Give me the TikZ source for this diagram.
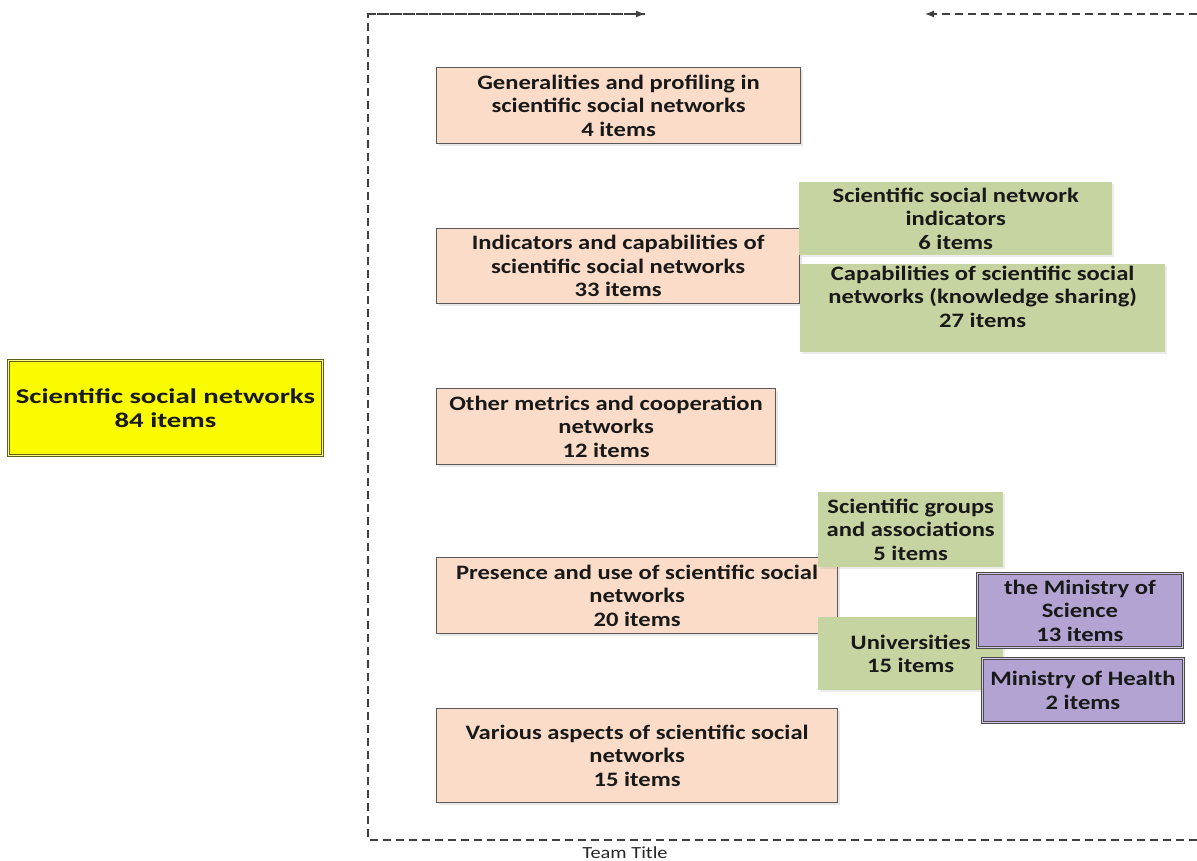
\documentclass[tikz,border=0pt]{standalone}
\usepackage{fontspec}
\setmainfont{Carlito}[FakeStretch=1.2]
\newfontfamily\widefont{Carlito}[FakeStretch=1.37]
\usetikzlibrary{shadows,arrows.meta}
\definecolor{peach}{HTML}{FBDCC8}
\definecolor{sage}{HTML}{C6D4A1}
\definecolor{lav}{HTML}{B3A3D3}
\definecolor{ylw}{HTML}{FAFA00}
\definecolor{olv}{HTML}{5E5E20}
\definecolor{frame}{HTML}{404040}
\tikzset{
  boxtext/.style={font=\fontsize{20.5}{23.5}\selectfont\bfseries, align=center, inner sep=0pt, anchor=north west, text=black!90},
  orangebox/.style={boxtext, fill=peach, draw=black!65, line width=1.2pt,
     drop shadow={opacity=0.18, shadow xshift=2pt, shadow yshift=-2pt}},
  greenbox/.style={boxtext, fill=sage,
     drop shadow={opacity=0.15, shadow xshift=2pt, shadow yshift=-2pt}},
  purplebox/.style={boxtext, fill=lav, draw=black!70, double=lav!60!white, double distance=1.2pt, line width=0.9pt},
  mainbox/.style={boxtext, font=\widefont\fontsize{21}{24}\selectfont\bfseries, fill=ylw, draw=olv, double=ylw!50!white, double distance=1.5pt, line width=0.9pt},
  lane/.style={draw=frame, dashed, dash pattern=on 8pt off 5pt, line width=1.2pt},
  lanearrow/.style={lane, -{Latex[length=9pt,width=7pt]}},
}
\begin{document}
\begin{tikzpicture}[x=1pt,y=-1pt]
\useasboundingbox (0,0) rectangle (1197,861);
% swimlane frame
\coordinate (tl) at (368,14);
\coordinate (bl) at (368,840);
\coordinate (br) at (1197,840);
\coordinate (ta) at (645,14);
\coordinate (tr) at (1197,14);
\coordinate (tb) at (925,14);
\draw[lane] (ta) -- (tl) -- (bl) -- (br);
\draw[lanearrow] (tl) -- (ta);
\draw[lanearrow] (tr) -- (tb);
\node[font=\fontsize{17}{19}\selectfont, text=black!85] (team) at (625,853) {Team Title};
% main
\node[mainbox, minimum width=314pt, minimum height=95pt] (main) at (8,360) {Scientific social networks\\84 items};
% orange
\node[orangebox, minimum width=364pt, minimum height=76pt] (o1) at (436,67) {Generalities and profiling in\\scientific social networks\\4 items};
\node[orangebox, minimum width=363pt, minimum height=75pt] (o2) at (436,228) {Indicators and capabilities of\\scientific social networks\\33 items};
\node[orangebox, minimum width=339pt, minimum height=76pt] (o3) at (436,388) {Other metrics and cooperation\\networks\\12 items};
\node[orangebox, minimum width=401pt, minimum height=76pt] (o4) at (436,557) {Presence and use of scientific social\\networks\\20 items};
\node[orangebox, minimum width=401pt, minimum height=94pt] (o5) at (436,708) {Various aspects of scientific social\\networks\\15 items};
% green
\node[greenbox, minimum width=313pt, minimum height=73pt] (g1) at (799,182) {Scientific social network\\indicators\\6 items};
\node[greenbox, minimum width=365pt, minimum height=88pt] (g2) at (800,264) {Capabilities of scientific social\\networks (knowledge sharing)\\27 items\\\mbox{}};
\node[greenbox, minimum width=185pt, minimum height=75pt] (g3) at (818,492) {Scientific groups\\and associations\\5 items};
\node[greenbox, minimum width=185pt, minimum height=73pt] (g4) at (818,617) {Universities\\15 items};
% purple
\node[purplebox, minimum width=205pt, minimum height=74pt] (p1) at (977,573) {the Ministry of\\Science\\13 items};
\node[purplebox, minimum width=201pt, minimum height=64pt] (p2) at (982,658) {Ministry of Health\\2 items};
\end{tikzpicture}
\end{document}
